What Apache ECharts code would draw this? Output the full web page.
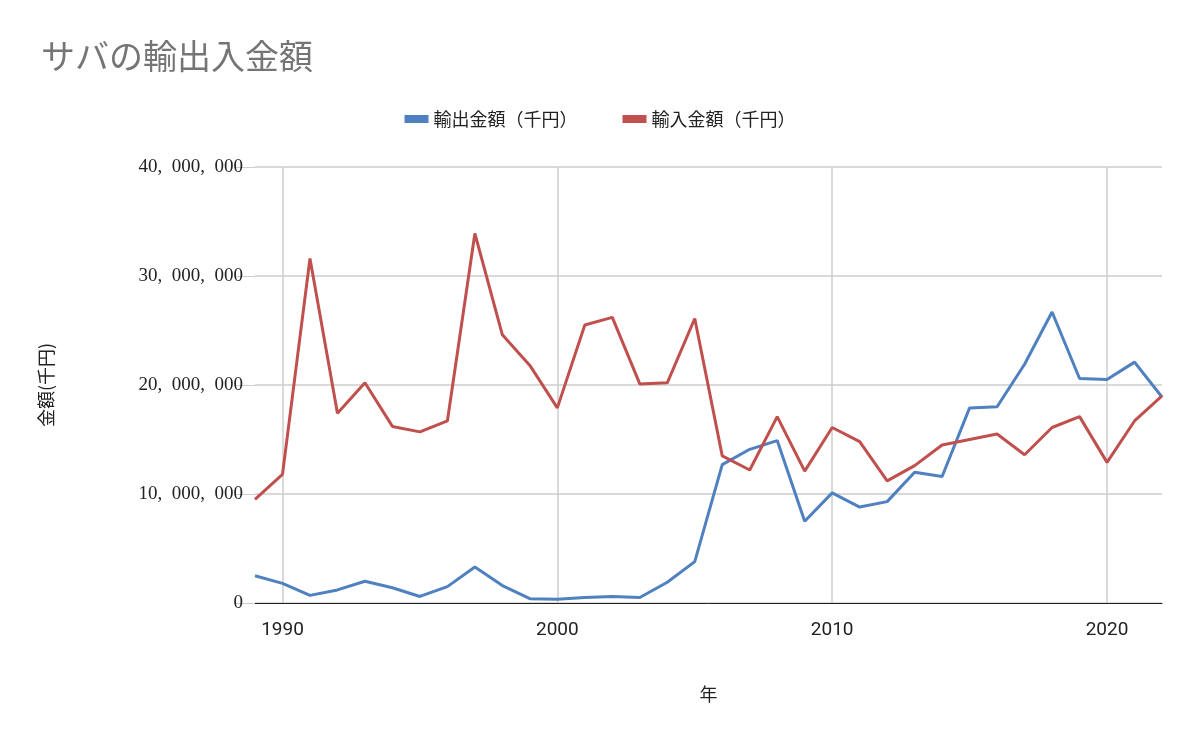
<!DOCTYPE html>
<html>
<head>
<meta charset="utf-8">
<script src="https://cdn.jsdelivr.net/npm/echarts@6/dist/echarts.min.js"></script>
<style>html,body{margin:0;padding:0;background:#fff}</style>
</head>
<body>
<div id="main" style="width:1200px;height:742px"></div>
<script>
// 年（1989〜2022）
var years = [];
for (var y = 1989; y <= 2022; y++) years.push(String(y));

// 輸出金額（千円）
var exportValues = [2500000,1800000,700000,1200000,2000000,1400000,600000,1500000,3300000,1600000,
  400000,350000,500000,600000,500000,1900000,3800000,12700000,14100000,14900000,
  7500000,10100000,8800000,9300000,12000000,11600000,17900000,18000000,21900000,26700000,
  20600000,20500000,22100000,18900000];

// 輸入金額（千円）
var importValues = [9500000,11800000,31600000,17400000,20200000,16200000,15700000,16700000,33900000,24600000,
  21800000,17900000,25500000,26200000,20100000,20200000,26100000,13500000,12200000,17100000,
  12100000,16100000,14800000,11200000,12600000,14500000,15000000,15500000,13600000,16100000,
  17100000,12900000,16700000,19000000];

var myChart = echarts.init(document.getElementById('main'));
var decade = function (i, v) { return Number(v) % 10 === 0; };

myChart.setOption({
    title: {
        text: 'サバの輸出入金額',
        left: 36,
        top: 34,
        textStyle: { color: '#757575', fontSize: 34, fontWeight: 'normal', fontFamily: 'Noto Sans CJK JP' }
    },
    legend: {
        top: 105,
        left: 'center',
        itemWidth: 24,
        itemHeight: 8,
        itemGap: 45,
        icon: 'rect',
        textStyle: { fontSize: 18, color: '#222', fontFamily: 'Noto Sans CJK JP' }
    },
    grid: { left: 255, right: 38, top: 167, bottom: 139 },
    xAxis: {
        type: 'category',
        data: years,
        boundaryGap: false,
        name: '年',
        nameLocation: 'middle',
        nameGap: 82,
        nameTextStyle: { fontSize: 18, color: '#222', fontFamily: 'Noto Sans CJK JP' },
        axisLine: { lineStyle: { color: '#222' } },
        axisTick: { show: false },
        axisLabel: { interval: decade, fontSize: 19, color: '#222', margin: 18, fontFamily: 'Roboto' },
        splitLine: { show: true, interval: decade, lineStyle: { color: '#ccc', width: 1.5 } }
    },
    yAxis: {
        type: 'value',
        min: 0,
        max: 40000000,
        interval: 10000000,
        name: '金額(千円)',
        nameLocation: 'middle',
        nameGap: 200,
        nameTextStyle: { fontSize: 18, color: '#222', fontFamily: 'Noto Sans CJK JP' },
        axisLine: { show: false },
        axisTick: { show: true, length: 20, lineStyle: { color: '#ccc' } },
        axisLabel: {
            fontSize: 19, color: '#222', margin: 12, fontFamily: 'Liberation Serif',
            formatter: function (v) { return v.toLocaleString('en-US').replace(/,/g, ',\u2002'); }
        },
        splitLine: { lineStyle: { color: '#ccc', width: 1.5 } }
    },
    series: [{
        name: '輸出金額（千円）',
        type: 'line',
        data: exportValues,
        showSymbol: false,
        color: '#4f81c0',
        lineStyle: { width: 3 }
    }, {
        name: '輸入金額（千円）',
        type: 'line',
        data: importValues,
        showSymbol: false,
        color: '#c0504d',
        lineStyle: { width: 3 }
    }]
});
</script>
</body>
</html>
